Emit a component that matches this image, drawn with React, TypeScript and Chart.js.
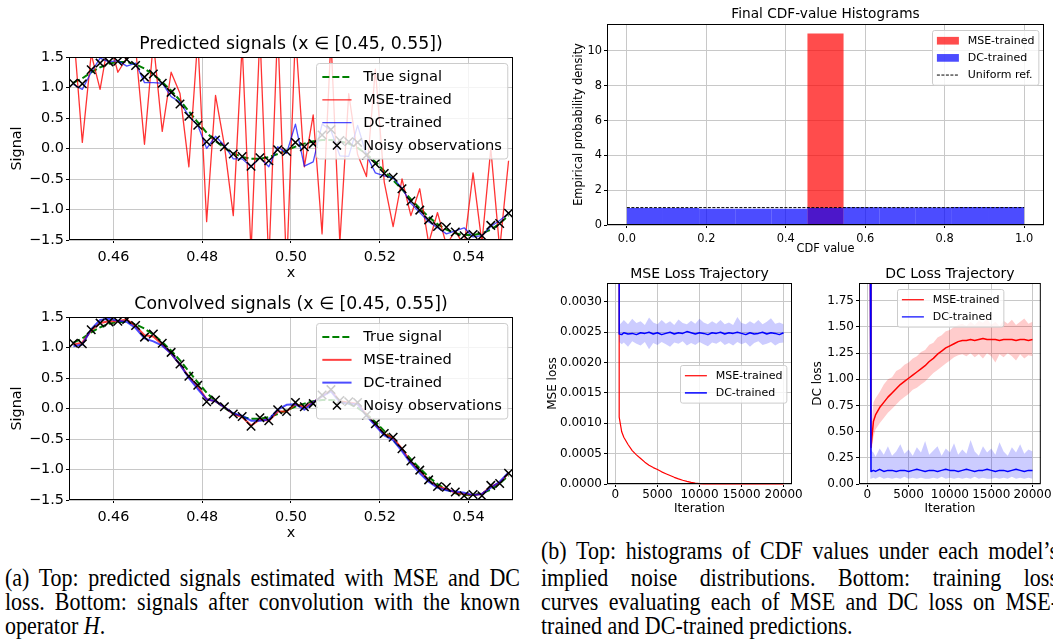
import React, { useEffect, useRef } from 'react';
import { Chart, registerables } from 'chart.js';

Chart.register(...registerables);

const FONT = '"DejaVu Sans", "Noto Sans", sans-serif';
const SERIF = '"Liberation Serif", "DejaVu Serif", serif';

// ---------------- data: signal panels ----------------
const X_POS = [0.451, 0.453, 0.455, 0.457, 0.459, 0.461, 0.463, 0.465, 0.467, 0.469, 0.471, 0.473, 0.475, 0.477, 0.479, 0.481, 0.483, 0.485, 0.487, 0.489, 0.491, 0.493, 0.495, 0.497, 0.499, 0.501, 0.503, 0.505, 0.507, 0.509, 0.511, 0.513, 0.515, 0.517, 0.519, 0.521, 0.523, 0.525, 0.527, 0.529, 0.531, 0.533, 0.535, 0.537, 0.539, 0.541, 0.543, 0.545, 0.547, 0.549];
const TRUE_SIGNAL = [1.08, 1.15, 1.25, 1.33, 1.39, 1.42, 1.42, 1.38, 1.31, 1.21, 1.09, 0.95, 0.79, 0.61, 0.43, 0.26, 0.12, 0.01, -0.08, -0.14, -0.17, -0.17, -0.14, -0.09, -0.03, 0.03, 0.08, 0.12, 0.14, 0.14, 0.12, 0.08, 0.01, -0.09, -0.22, -0.37, -0.52, -0.67, -0.83, -0.98, -1.12, -1.24, -1.33, -1.39, -1.42, -1.42, -1.39, -1.33, -1.23, -1.10];
const OBSERVATIONS = [1.07, 1.06, 1.29, 1.40, 1.42, 1.43, 1.46, 1.36, 1.17, 1.22, 1.07, 0.92, 0.73, 0.53, 0.38, 0.11, 0.14, 0.03, -0.09, -0.13, -0.29, -0.15, -0.20, -0.02, -0.05, 0.10, 0.03, 0.08, 0.22, 0.31, 0.13, 0.11, 0.10, -0.11, -0.25, -0.41, -0.47, -0.66, -0.86, -1.01, -1.17, -1.28, -1.29, -1.37, -1.43, -1.41, -1.43, -1.26, -1.23, -1.06];
const MSE_PREDICTED = [1.95, 0.10, 1.55, 0.97, 1.80, 1.25, 1.48, 1.65, 0.07, 1.75, 0.28, 1.25, 0.90, -0.30, 1.80, -1.20, 0.87, 0.05, -1.10, 1.70, -1.70, 1.90, -1.90, 2.00, -2.00, 1.90, -0.30, 0.55, -1.40, 1.80, -1.55, 0.90, -0.10, -0.46, 1.30, -0.55, -1.28, -0.50, -1.10, -0.66, -1.55, -1.05, -1.58, -1.35, -1.60, -0.40, -1.55, 0.00, -1.65, -0.20];
const DC_PREDICTED = [1.05, 0.97, 1.25, 1.48, 1.42, 1.44, 1.35, 1.40, 1.08, 1.08, 1.07, 0.85, 0.76, 0.53, 0.38, 0.00, 0.20, 0.05, -0.17, -0.17, -0.30, -0.15, -0.30, 0.03, -0.08, 0.40, -0.29, -0.22, 0.40, 0.30, -0.12, -0.13, 0.38, -0.11, -0.40, -0.45, -0.48, -0.65, -0.90, -1.05, -1.20, -1.30, -1.40, -1.35, -1.30, -1.45, -1.43, -1.28, -1.18, -1.06];
const MSE_CONVOLVED = [1.05, 1.08, 1.28, 1.40, 1.43, 1.43, 1.46, 1.35, 1.20, 1.18, 1.05, 0.90, 0.72, 0.52, 0.36, 0.15, 0.12, 0.02, -0.09, -0.14, -0.28, -0.18, -0.20, -0.05, -0.05, 0.07, 0.02, 0.10, 0.20, 0.30, 0.12, 0.10, 0.08, -0.10, -0.26, -0.42, -0.48, -0.66, -0.88, -1.02, -1.18, -1.28, -1.32, -1.38, -1.40, -1.42, -1.40, -1.28, -1.22, -1.06];
const DC_CONVOLVED = [1.02, 1.05, 1.30, 1.45, 1.47, 1.44, 1.42, 1.32, 1.15, 1.10, 1.03, 0.90, 0.72, 0.50, 0.32, 0.15, 0.12, 0.02, -0.08, -0.12, -0.20, -0.20, -0.18, -0.02, 0.06, 0.07, -0.02, 0.10, 0.20, 0.28, 0.10, 0.08, 0.07, -0.12, -0.28, -0.44, -0.52, -0.70, -0.90, -1.06, -1.20, -1.30, -1.34, -1.36, -1.38, -1.42, -1.40, -1.30, -1.20, -1.05];
const SIGNAL_X_TICKS = [0.46, 0.48, 0.5, 0.52, 0.54];
const SIGNAL_Y_TICKS = [-1.5, -1.0, -0.5, 0, 0.5, 1.0, 1.5];

// ---------------- data: histogram ----------------
const HIST_BIN_CENTERS = [0.0455, 0.1364, 0.2273, 0.3182, 0.4091, 0.5, 0.5909, 0.6818, 0.7727, 0.8636, 0.9545];
const HIST_MSE_DENSITY = [0, 0, 0, 0, 0, 11, 0, 0, 0, 0, 0];
const HIST_DC_DENSITY = [0.97, 0.97, 0.94, 0.94, 0.94, 0.97, 1.02, 1.01, 1.0, 1.03, 1.04];
const UNIFORM_REF_X = [0, 1];
const UNIFORM_REF_Y = [1, 1];
const HIST_X_TICKS = [0, 0.2, 0.4, 0.6, 0.8, 1.0];
const HIST_Y_TICKS = [0, 2, 4, 6, 8, 10];

// ---------------- data: loss trajectories ----------------
const ITERATIONS = [350, 450, 750, 1000, 1500, 2000, 2500, 3000, 3500, 4000, 4500, 5000, 5500, 6000, 6500, 7000, 7500, 8000, 8500, 9000, 9500, 10000, 10500, 11000, 11500, 12000, 12500, 13000, 13500, 14000, 14500, 15000, 15500, 16000, 16500, 17000, 17500, 18000, 18500, 19000, 19500, 20000];
const MSELOSS_MSE_TRAINED = [0.05, 0.0011, 0.00086, 0.00077, 0.00065, 0.00055, 0.00048, 0.00042, 0.00036, 0.00031, 0.00027, 0.00024, 0.0002, 0.00017, 0.00014, 0.00011, 0.000085, 0.000062, 0.000043, 0.000027, 0.000014, 0.000005, 0.000002, 0.000001, 0.000001, 0.000001, 0, 0, 0, 0, 0, 0, 0, 0, 0, 0, 0, 0, 0, 0, 0, 0];
const MSELOSS_DC_TRAINED = [0.05, 0.00247, 0.00246, 0.00249, 0.00247, 0.00248, 0.00246, 0.00249, 0.00248, 0.0025, 0.00247, 0.00249, 0.00246, 0.00248, 0.0025, 0.00247, 0.00249, 0.00248, 0.00251, 0.00249, 0.00247, 0.00249, 0.00248, 0.00246, 0.00249, 0.00248, 0.0025, 0.00247, 0.00249, 0.00248, 0.0025, 0.00248, 0.00246, 0.00249, 0.00247, 0.00248, 0.0025, 0.00247, 0.00249, 0.00248, 0.00246, 0.00249];
const MSELOSS_DC_BAND_HI = [0.05, 0.00262, 0.00266, 0.0027, 0.00263, 0.00272, 0.00265, 0.00268, 0.00262, 0.00274, 0.00266, 0.00263, 0.0027, 0.00264, 0.00268, 0.00262, 0.00271, 0.00265, 0.00263, 0.00269, 0.00264, 0.00272, 0.00266, 0.00263, 0.00268, 0.00264, 0.0027, 0.00263, 0.00266, 0.00262, 0.00275, 0.00265, 0.00263, 0.00268, 0.00264, 0.0027, 0.00263, 0.00267, 0.00273, 0.00264, 0.00266, 0.00263];
const MSELOSS_DC_BAND_LO = [0.05, 0.00234, 0.0023, 0.00233, 0.00226, 0.00235, 0.00231, 0.00228, 0.00234, 0.00222, 0.00232, 0.00229, 0.00234, 0.0023, 0.00226, 0.00233, 0.00231, 0.00235, 0.00228, 0.00232, 0.00229, 0.00234, 0.0023, 0.00227, 0.00233, 0.00231, 0.00235, 0.00229, 0.00232, 0.00228, 0.00234, 0.0023, 0.00233, 0.00226, 0.00232, 0.00235, 0.00229, 0.00231, 0.00234, 0.00228, 0.00232, 0.00233];
const DCLOSS_MSE_TRAINED = [2.5, 0.35, 0.6, 0.66, 0.73, 0.78, 0.83, 0.87, 0.91, 0.95, 0.98, 1.01, 1.04, 1.07, 1.1, 1.13, 1.17, 1.2, 1.24, 1.27, 1.3, 1.32, 1.34, 1.36, 1.37, 1.37, 1.38, 1.37, 1.38, 1.39, 1.38, 1.38, 1.38, 1.37, 1.38, 1.38, 1.38, 1.37, 1.38, 1.38, 1.37, 1.38];
const DCLOSS_MSE_BAND_HI = [2.5, 0.5, 0.78, 0.82, 0.88, 0.95, 1.0, 1.02, 1.08, 1.1, 1.14, 1.16, 1.2, 1.22, 1.26, 1.28, 1.33, 1.35, 1.4, 1.42, 1.46, 1.47, 1.5, 1.52, 1.53, 1.51, 1.55, 1.52, 1.56, 1.54, 1.58, 1.52, 1.55, 1.51, 1.56, 1.53, 1.57, 1.52, 1.55, 1.58, 1.53, 1.55];
const DCLOSS_MSE_BAND_LO = [2.5, 0.28, 0.45, 0.52, 0.58, 0.63, 0.68, 0.72, 0.76, 0.8, 0.83, 0.86, 0.9, 0.92, 0.95, 0.98, 1.02, 1.06, 1.09, 1.12, 1.15, 1.18, 1.21, 1.23, 1.24, 1.22, 1.25, 1.21, 1.24, 1.2, 1.25, 1.22, 1.16, 1.24, 1.21, 1.25, 1.22, 1.18, 1.24, 1.2, 1.23, 1.22];
const DCLOSS_DC_TRAINED = [2.5, 0.12, 0.13, 0.12, 0.14, 0.12, 0.13, 0.13, 0.12, 0.13, 0.13, 0.12, 0.13, 0.14, 0.13, 0.12, 0.13, 0.13, 0.12, 0.13, 0.14, 0.13, 0.13, 0.12, 0.13, 0.14, 0.13, 0.12, 0.13, 0.13, 0.14, 0.13, 0.12, 0.13, 0.13, 0.12, 0.13, 0.14, 0.13, 0.12, 0.13, 0.13];
const DCLOSS_DC_BAND_HI = [2.5, 0.32, 0.3, 0.26, 0.34, 0.28, 0.36, 0.27, 0.31, 0.38, 0.29, 0.33, 0.27, 0.35, 0.3, 0.41, 0.28, 0.32, 0.36, 0.27, 0.34, 0.3, 0.39, 0.28, 0.33, 0.29, 0.42, 0.31, 0.27, 0.36, 0.3, 0.34, 0.28, 0.4, 0.31, 0.27, 0.35, 0.3, 0.38, 0.29, 0.33, 0.31];
const DCLOSS_DC_BAND_LO = [2.5, 0.05, 0.06, 0.05, 0.07, 0.05, 0.06, 0.05, 0.06, 0.05, 0.07, 0.05, 0.06, 0.05, 0.06, 0.05, 0.05, 0.06, 0.05, 0.07, 0.05, 0.06, 0.05, 0.06, 0.05, 0.06, 0.05, 0.07, 0.05, 0.06, 0.05, 0.05, 0.06, 0.05, 0.06, 0.05, 0.07, 0.05, 0.06, 0.05, 0.06, 0.05];
const LOSS_X_TICKS = [0, 5000, 10000, 15000, 20000];
const MSELOSS_Y_TICKS = [0, 0.0005, 0.001, 0.0015, 0.002, 0.0025, 0.003];
const DCLOSS_Y_TICKS = [0, 0.25, 0.5, 0.75, 1.0, 1.25, 1.5, 1.75];

// ---------------- captions ----------------
const CAPTION_A = [
  '(a) Top: predicted signals estimated with MSE and DC',
  'loss. Bottom: signals after convolution with the known',
];
const CAPTION_B = [
  '(b) Top: histograms of CDF values under each model\u2019s',
  'implied noise distributions. Bottom: training loss',
  'curves evaluating each of MSE and DC loss on MSE-',
  'trained and DC-trained predictions.',
];

// ---------------- helpers ----------------
const pts = (xs: number[], ys: number[]) => xs.map((x, i) => ({ x, y: ys[i] }));
const minus = (s: string) => s.replace('-', '\u2212');
const fmt = (d: number) => (v: number) => {
  const r = Math.abs(v) < 1e-12 ? 0 : v;
  return minus(r.toFixed(d));
};

type LegendItem = { label: string; kind: 'line' | 'marker' | 'patch'; color: string; width?: number; dash?: number[] };
type LegendSpec = { items: LegendItem[]; fs: number; loc: 'upper right' | 'center right' | 'upper center'; pad: number };
type TextSpec = {
  title: string; titleSize: number; titleOff: number;
  xlabel: string; xlabelOff: number; ylabel: string; ylabelOff: number; labelSize: number;
  legend: LegendSpec;
};

function roundRectPath(ctx: CanvasRenderingContext2D, x: number, y: number, w: number, h: number, r: number) {
  ctx.beginPath();
  ctx.moveTo(x + r, y);
  ctx.lineTo(x + w - r, y);
  ctx.quadraticCurveTo(x + w, y, x + w, y + r);
  ctx.lineTo(x + w, y + h - r);
  ctx.quadraticCurveTo(x + w, y + h, x + w - r, y + h);
  ctx.lineTo(x + r, y + h);
  ctx.quadraticCurveTo(x, y + h, x, y + h - r);
  ctx.lineTo(x, y + r);
  ctx.quadraticCurveTo(x, y, x + r, y);
  ctx.closePath();
}

function drawLegend(ctx: CanvasRenderingContext2D, a: any, lg: LegendSpec) {
  const fs = lg.fs;
  ctx.font = `${fs}px ${FONT}`;
  const tw = Math.max(...lg.items.map((it) => ctx.measureText(it.label).width));
  const bp = 0.4 * fs, hl = 2 * fs, htp = 0.8 * fs, rowH = 1.06 * fs, ls = 0.5 * fs;
  const n = lg.items.length;
  const w = 2 * bp + hl + htp + tw;
  const h = 2 * bp + n * rowH + (n - 1) * ls;
  let x: number, y: number;
  if (lg.loc === 'upper right') { x = a.right - lg.pad - w; y = a.top + lg.pad; }
  else if (lg.loc === 'center right') { x = a.right - lg.pad - w; y = (a.top + a.bottom) / 2 - h / 2; }
  else { x = (a.left + a.right) / 2 - w / 2; y = a.top + lg.pad; }
  x = Math.round(x) + 0.5; y = Math.round(y) + 0.5;
  roundRectPath(ctx, x, y, w, h, 0.2 * fs);
  ctx.fillStyle = 'rgba(255,255,255,0.8)';
  ctx.fill();
  ctx.strokeStyle = '#cccccc';
  ctx.lineWidth = 1;
  ctx.stroke();
  lg.items.forEach((it, i) => {
    const cy = y + bp + i * (rowH + ls) + rowH / 2;
    const x0 = x + bp, x1 = x0 + hl;
    ctx.save();
    if (it.kind === 'line') {
      ctx.strokeStyle = it.color;
      ctx.lineWidth = it.width || 1.5;
      ctx.setLineDash(it.dash || []);
      ctx.beginPath(); ctx.moveTo(x0, cy); ctx.lineTo(x1, cy); ctx.stroke();
    } else if (it.kind === 'marker') {
      const cx = (x0 + x1) / 2, r = 4;
      ctx.strokeStyle = it.color; ctx.lineWidth = it.width || 1.5;
      ctx.beginPath();
      ctx.moveTo(cx - r, cy - r); ctx.lineTo(cx + r, cy + r);
      ctx.moveTo(cx - r, cy + r); ctx.lineTo(cx + r, cy - r);
      ctx.stroke();
    } else {
      ctx.fillStyle = it.color;
      const ph = 0.7 * fs;
      ctx.fillRect(x0, cy - ph / 2, hl, ph);
    }
    ctx.restore();
    ctx.fillStyle = '#000';
    ctx.textAlign = 'left';
    ctx.textBaseline = 'middle';
    ctx.fillText(it.label, x1 + htp, cy + 0.5);
  });
}

function mplPlugin(spec: TextSpec) {
  return {
    id: 'mpl',
    afterDatasetsDraw(chart: any) {
      const ctx: CanvasRenderingContext2D = chart.ctx;
      const a = chart.chartArea;
      ctx.save();
      ctx.strokeStyle = '#000';
      ctx.lineWidth = 1;
      ctx.setLineDash([]);
      ctx.strokeRect(a.left + 0.5, a.top + 0.5, a.right - a.left - 1, a.bottom - a.top - 1);
      drawLegend(ctx, a, spec.legend);
      ctx.restore();
    },
    afterDraw(chart: any) {
      const ctx: CanvasRenderingContext2D = chart.ctx;
      const a = chart.chartArea;
      const cx = (a.left + a.right) / 2, cy = (a.top + a.bottom) / 2;
      ctx.save();
      ctx.fillStyle = '#000';
      ctx.textAlign = 'center';
      ctx.textBaseline = 'middle';
      ctx.font = `${spec.titleSize}px ${FONT}`;
      ctx.fillText(spec.title, cx, a.top - spec.titleOff);
      ctx.font = `${spec.labelSize}px ${FONT}`;
      ctx.fillText(spec.xlabel, cx, a.bottom + spec.xlabelOff);
      ctx.translate(a.left - spec.ylabelOff, cy);
      ctx.rotate(-Math.PI / 2);
      ctx.fillText(spec.ylabel, 0, 0);
      ctx.restore();
    },
  };
}

function axis(pos: 'x' | 'y', min: number, max: number, ticks: number[], f: (v: number) => string, fs: number, pad: number) {
  return {
    type: 'linear',
    position: pos === 'x' ? 'bottom' : 'left',
    min, max,
    offset: false,
    grid: { color: '#c8c8c8', lineWidth: 1, tickColor: '#000', tickLength: 3, drawTicks: true, offset: false },
    border: { display: false },
    ticks: { font: { family: FONT, size: fs }, color: '#000', padding: pad, autoSkip: false, maxRotation: 0, minRotation: 0, includeBounds: false, callback: (v: number) => f(v) },
    afterBuildTicks: (s: any) => { s.ticks = ticks.map((v) => ({ value: v })); },
  };
}

function line(data: any[], color: string, width: number, extra: any = {}) {
  return { type: 'line', data, borderColor: color, borderWidth: width, pointRadius: 0, tension: 0, fill: false, borderJoinStyle: 'round', ...extra };
}

function withOrder(ds: any[]) {
  return ds.map((d, i) => ({ ...d, order: 100 - i }));
}

type Area = { l: number; t: number; r: number; b: number };
type Margin = { L: number; T: number; R: number; B: number };

function MplChart({ area, margin, make }: { area: Area; margin: Margin; make: () => any }) {
  const ref = useRef<HTMLCanvasElement | null>(null);
  const W = area.r - area.l + margin.L + margin.R;
  const H = area.b - area.t + margin.T + margin.B;
  useEffect(() => {
    const cfg = make();
    cfg.options.scales.x.afterFit = (s: any) => { s.height = margin.B; };
    cfg.options.scales.y.afterFit = (s: any) => { s.width = margin.L; };
    cfg.options = {
      ...cfg.options,
      responsive: false,
      animation: false,
      devicePixelRatio: 1,
      events: [],
      layout: { padding: { left: 0, top: margin.T, right: margin.R, bottom: 0 } },
    };
    const chart = new Chart(ref.current as HTMLCanvasElement, cfg);
    return () => chart.destroy();
  }, []);
  return (
    <canvas
      ref={ref}
      width={W}
      height={H}
      style={{ position: 'absolute', left: area.l - margin.L, top: area.t - margin.T, width: W, height: H }}
    />
  );
}

const BLUE_T = 'rgba(0,0,255,0.7)';
const GREEN = '#008000';

function signalChart(title: string, mse: number[], dc: number[], lw: number, redC: string) {
  return () => ({
    type: 'line',
    data: {
      datasets: withOrder([
        line(pts(X_POS, TRUE_SIGNAL), GREEN, 2, { borderDash: [7, 3] }),
        line(pts(X_POS, mse), redC, lw),
        line(pts(X_POS, dc), BLUE_T, lw),
        { type: 'line', data: pts(X_POS, OBSERVATIONS), showLine: false, pointStyle: 'crossRot', pointRadius: 6, borderColor: '#000', backgroundColor: '#000', pointBorderWidth: 1.5, borderWidth: 1.5 },
      ]),
    },
    options: {
      scales: {
        x: axis('x', 0.45, 0.55, SIGNAL_X_TICKS, fmt(2), 14.4, 6),
        y: axis('y', -1.5, 1.5, SIGNAL_Y_TICKS, fmt(1), 14.4, 2),
      },
      plugins: { legend: { display: false }, tooltip: { enabled: false } },
    },
    plugins: [mplPlugin({
      title, titleSize: 17.3, titleOff: 12,
      xlabel: 'x', xlabelOff: 33, ylabel: 'Signal', ylabelOff: 52, labelSize: 14.4,
      legend: {
        fs: 14.6, loc: 'upper right', pad: 6,
        items: [
          { label: 'True signal', kind: 'line', color: GREEN, width: 2, dash: [7, 3] },
          { label: 'MSE-trained', kind: 'line', color: redC, width: lw },
          { label: 'DC-trained', kind: 'line', color: BLUE_T, width: lw },
          { label: 'Noisy observations', kind: 'marker', color: '#000', width: 1.5 },
        ],
      },
    })],
  });
}

const histChart = () => ({
  type: 'bar',
  data: {
    datasets: withOrder([
      { type: 'bar', data: pts(HIST_BIN_CENTERS, HIST_MSE_DENSITY), backgroundColor: 'rgba(255,0,0,0.7)', borderWidth: 0, inflateAmount: 0, barPercentage: 1, categoryPercentage: 1, grouped: false },
      { type: 'bar', data: pts(HIST_BIN_CENTERS, HIST_DC_DENSITY), backgroundColor: 'rgba(0,0,255,0.7)', borderWidth: 0, inflateAmount: 0, barPercentage: 1, categoryPercentage: 1, grouped: false },
      line(pts(UNIFORM_REF_X, UNIFORM_REF_Y), '#000', 1, { borderDash: [3, 1.5] }),
    ]),
  },
  options: {
    scales: {
      x: axis('x', -0.05, 1.05, HIST_X_TICKS, fmt(1), 11.4, 4),
      y: axis('y', 0, 11.55, HIST_Y_TICKS, fmt(0), 11.4, 2),
    },
    plugins: { legend: { display: false }, tooltip: { enabled: false } },
  },
  plugins: [mplPlugin({
    title: 'Final CDF-value Histograms', titleSize: 13.7, titleOff: 10,
    xlabel: 'CDF value', xlabelOff: 24, ylabel: 'Empirical probability density', ylabelOff: 28, labelSize: 11.4,
    legend: {
      fs: 11, loc: 'upper right', pad: 6,
      items: [
        { label: 'MSE-trained', kind: 'patch', color: 'rgba(255,0,0,0.7)' },
        { label: 'DC-trained', kind: 'patch', color: 'rgba(0,0,255,0.7)' },
        { label: 'Uniform ref.', kind: 'line', color: '#000', width: 1, dash: [3, 1.5] },
      ],
    },
  })],
});

const mseLossChart = () => ({
  type: 'line',
  data: {
    datasets: withOrder([
      line(pts(ITERATIONS, MSELOSS_MSE_TRAINED), '#ff0000', 1.2, { clip: { left: 0, top: 0, right: 0, bottom: 2 } }),
      line(pts(ITERATIONS, MSELOSS_DC_BAND_LO), 'transparent', 0),
      line(pts(ITERATIONS, MSELOSS_DC_BAND_HI), 'transparent', 0, { fill: '-1', backgroundColor: 'rgba(0,0,255,0.2)' }),
      line(pts(ITERATIONS, MSELOSS_DC_TRAINED), '#0000ff', 1.5),
    ]),
  },
  options: {
    scales: {
      x: axis('x', -1000, 21000, LOSS_X_TICKS, fmt(0), 12, 1),
      y: axis('y', 0, 0.00331, MSELOSS_Y_TICKS, fmt(4), 12, 2),
    },
    plugins: { legend: { display: false }, tooltip: { enabled: false } },
  },
  plugins: [mplPlugin({
    title: 'MSE Loss Trajectory', titleSize: 14, titleOff: 9,
    xlabel: 'Iteration', xlabelOff: 25, ylabel: 'MSE loss', ylabelOff: 54, labelSize: 12,
    legend: {
      fs: 11, loc: 'center right', pad: 6,
      items: [
        { label: 'MSE-trained', kind: 'line', color: '#ff0000', width: 1.2 },
        { label: 'DC-trained', kind: 'line', color: '#0000ff', width: 1.5 },
      ],
    },
  })],
});

const dcLossChart = () => ({
  type: 'line',
  data: {
    datasets: withOrder([
      line(pts(ITERATIONS, DCLOSS_MSE_BAND_LO), 'transparent', 0),
      line(pts(ITERATIONS, DCLOSS_MSE_BAND_HI), 'transparent', 0, { fill: '-1', backgroundColor: 'rgba(255,0,0,0.2)' }),
      line(pts(ITERATIONS, DCLOSS_MSE_TRAINED), '#ff0000', 1.5),
      line(pts(ITERATIONS, DCLOSS_DC_BAND_LO), 'transparent', 0),
      line(pts(ITERATIONS, DCLOSS_DC_BAND_HI), 'transparent', 0, { fill: '-1', backgroundColor: 'rgba(0,0,255,0.2)' }),
      line(pts(ITERATIONS, DCLOSS_DC_TRAINED), '#0000ff', 1.5),
    ]),
  },
  options: {
    scales: {
      x: axis('x', -1000, 21000, LOSS_X_TICKS, fmt(0), 12, 1),
      y: axis('y', 0, 1.92, DCLOSS_Y_TICKS, fmt(2), 12, 2),
    },
    plugins: { legend: { display: false }, tooltip: { enabled: false } },
  },
  plugins: [mplPlugin({
    title: 'DC Loss Trajectory', titleSize: 14, titleOff: 9,
    xlabel: 'Iteration', xlabelOff: 25, ylabel: 'DC loss', ylabelOff: 41, labelSize: 12,
    legend: {
      fs: 11, loc: 'upper center', pad: 6,
      items: [
        { label: 'MSE-trained', kind: 'line', color: '#ff0000', width: 1.2 },
        { label: 'DC-trained', kind: 'line', color: '#0000ff', width: 1.2 },
      ],
    },
  })],
});

const CAP_SCALE = 0.88;
const CAP_SIZE = 25;

function CaptionLine({ x, cy, w, justify, children }: { x: number; cy: number; w: number; justify: boolean; children: React.ReactNode }) {
  return (
    <div
      style={{
        position: 'absolute', left: x, top: cy - 14, width: w / CAP_SCALE, height: 28,
        fontFamily: SERIF, fontSize: CAP_SIZE, lineHeight: '28px', color: '#000',
        textAlign: 'justify', textAlignLast: justify ? 'justify' : 'left',
        transform: `scaleX(${CAP_SCALE})`, transformOrigin: '0 0', whiteSpace: 'normal',
      } as React.CSSProperties}
    >
      {children}
    </div>
  );
}

export default function App() {
  return (
    <div style={{ position: 'absolute', left: 0, top: 0, width: 1053, height: 642, overflow: 'hidden', background: '#fff' }}>
      <MplChart area={{ l: 69, t: 57, r: 513, b: 240 }} margin={{ L: 69, T: 45, R: 20, B: 42 }} make={signalChart('Predicted signals (x \u2208 [0.45, 0.55])', MSE_PREDICTED, DC_PREDICTED, 1.3, 'rgba(255,0,0,0.8)')} />
      <MplChart area={{ l: 69, t: 317, r: 513, b: 500 }} margin={{ L: 69, T: 45, R: 20, B: 42 }} make={signalChart('Convolved signals (x \u2208 [0.45, 0.55])', MSE_CONVOLVED, DC_CONVOLVED, 2, 'rgba(255,0,0,0.75)')} />
      <MplChart area={{ l: 607, t: 24, r: 1044, b: 225 }} margin={{ L: 50, T: 24, R: 9, B: 35 }} make={histChart} />
      <MplChart area={{ l: 607, t: 283, r: 792, b: 484 }} margin={{ L: 62, T: 28, R: 20, B: 36 }} make={mseLossChart} />
      <MplChart area={{ l: 859, t: 283, r: 1045, b: 484 }} margin={{ L: 50, T: 28, R: 8, B: 36 }} make={dcLossChart} />

      <CaptionLine x={5} cy={578} w={515} justify>{CAPTION_A[0]}</CaptionLine>
      <CaptionLine x={5} cy={602} w={515} justify>{CAPTION_A[1]}</CaptionLine>
      <CaptionLine x={5} cy={626} w={515} justify={false}>operator <i>H</i>.</CaptionLine>

      <CaptionLine x={541} cy={551} w={517} justify>{CAPTION_B[0]}</CaptionLine>
      <CaptionLine x={541} cy={578} w={517} justify>{CAPTION_B[1]}</CaptionLine>
      <CaptionLine x={541} cy={602} w={517} justify>{CAPTION_B[2]}</CaptionLine>
      <CaptionLine x={541} cy={626} w={517} justify={false}>{CAPTION_B[3]}</CaptionLine>
    </div>
  );
}
